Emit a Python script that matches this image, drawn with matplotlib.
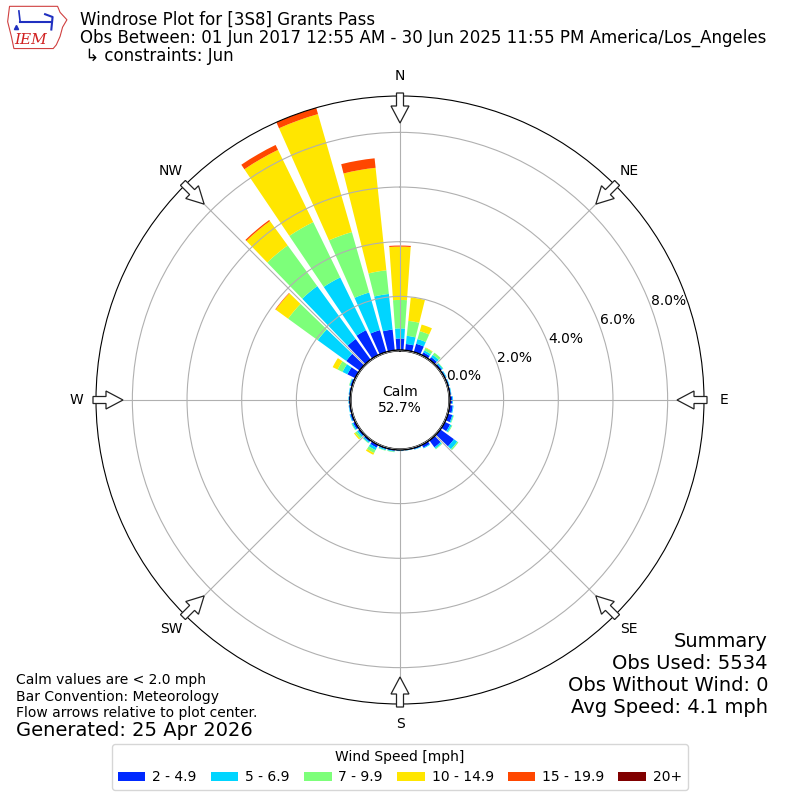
import numpy as np
import matplotlib
matplotlib.use("Agg")
import matplotlib.pyplot as plt
from matplotlib.patches import Circle, FancyArrow, Polygon

# ========================
# DATA (percent of obs, per 10 degree direction bin)
# ========================
directions = np.arange(0, 360, 10)
speed_labels = ["2 - 4.9", "5 - 6.9", "7 - 9.9", "10 - 14.9", "15 - 19.9", "20+"]

#            0     10    20    30    40    50    60    70    80    90   100   110
freq_2_5 = [0.46, 0.27, 0.35, 0.15, 0.15, 0.10, 0.08, 0.08, 0.08, 0.12, 0.15, 0.20,
            0.25, 0.65, 0.35, 0.15, 0.08, 0.06, 0.06, 0.08, 0.08, 0.15, 0.10, 0.10,
            0.12, 0.10, 0.08, 0.08, 0.08, 0.10, 0.35, 0.64, 0.97, 1.05, 0.87, 0.80]
freq_5_7 = [0.37, 0.30, 0.18, 0.08, 0.10, 0.05, 0.03, 0.02, 0.02, 0.03, 0.03, 0.04,
            0.06, 0.15, 0.06, 0.03, 0.02, 0.01, 0.02, 0.03, 0.04, 0.10, 0.05, 0.06,
            0.05, 0.03, 0.02, 0.02, 0.02, 0.03, 0.20, 1.29, 2.39, 2.15, 1.43, 1.31]
freq_7_10 = [1.04, 0.55, 0.30, 0.10, 0.10, 0.02, 0.00, 0.00, 0.00, 0.00, 0.00, 0.02,
             0.03, 0.05, 0.03, 0.00, 0.00, 0.00, 0.00, 0.02, 0.02, 0.12, 0.02, 0.08,
             0.02, 0.00, 0.00, 0.00, 0.00, 0.02, 0.20, 1.34, 1.84, 2.25, 2.30, 0.87]
freq_10_15 = [1.95, 0.86, 0.25, 0.02, 0.00, 0.00, 0.00, 0.00, 0.00, 0.00, 0.00, 0.00,
              0.00, 0.00, 0.00, 0.00, 0.00, 0.00, 0.00, 0.00, 0.00, 0.07, 0.00, 0.05,
              0.00, 0.00, 0.00, 0.00, 0.00, 0.00, 0.20, 0.56, 1.10, 2.94, 4.49, 3.77]
freq_15_20 = [0.04, 0.00, 0.00, 0.00, 0.00, 0.00, 0.00, 0.00, 0.00, 0.00, 0.00, 0.00,
              0.00, 0.00, 0.00, 0.00, 0.00, 0.00, 0.00, 0.00, 0.00, 0.00, 0.00, 0.00,
              0.00, 0.00, 0.00, 0.00, 0.00, 0.00, 0.00, 0.02, 0.05, 0.20, 0.27, 0.35]
freq_20_up = [0.0] * 36

calm_pct = 52.7
ring_values = [0, 2, 4, 6, 8]
ring_labels = ["0.0%", "2.0%", "4.0%", "6.0%", "8.0%"]
compass = ["N", "NE", "E", "SE", "S", "SW", "W", "NW"]

title_lines = [
    "Windrose Plot for [3S8] Grants Pass",
    "Obs Between: 01 Jun 2017 12:55 AM - 30 Jun 2025 11:55 PM America/Los_Angeles",
    " \u21b3 constraints: Jun",
]
notes = ["Calm values are < 2.0 mph", "Bar Convention: Meteorology",
         "Flow arrows relative to plot center."]
generated = "Generated: 25 Apr 2026"
summary_lines = ["Summary", "Obs Used: 5534", "Obs Without Wind: 0", "Avg Speed: 4.1 mph"]

# ========================
# FIGURE
# ========================
fig = plt.figure(figsize=(8, 8), dpi=100)
ax = fig.add_axes([0.12, 0.12, 0.76, 0.76], projection="polar")
ax.set_theta_zero_location("N")
ax.set_theta_direction(-1)
ax.set_rorigin(-1.79)
ax.set_ylim(0, 9.33)

colors = plt.get_cmap("jet")(np.arange(1, 7) / 6.0)
theta = np.radians(directions)
bottom = np.zeros(len(directions))
for vals, col, lab in zip([freq_2_5, freq_5_7, freq_7_10, freq_10_15, freq_15_20, freq_20_up],
                          colors, speed_labels):
    vals = np.array(vals)
    ax.bar(theta, vals, width=np.radians(8), bottom=bottom, color=col,
           linewidth=0, label=lab, zorder=1)
    bottom += vals

ax.set_xticks(np.radians(np.arange(0, 360, 45)))
ax.set_xticklabels([])
ax.set_rgrids(ring_values, labels=ring_labels, angle=70, fontsize=10)

# calm circle in the middle
ax.add_artist(Circle((0.5, 0.5), 50 / 608.0, transform=ax.transAxes,
                     fc="white", ec="black", lw=1, zorder=5))
ax.text(0.5, 0.5, "Calm\n%.1f%%" % calm_pct, transform=ax.transAxes,
        ha="center", va="center", fontsize=10, zorder=6)

# compass labels and flow arrows
for i, lab in enumerate(compass):
    b = np.radians(i * 45)
    r = 0.5 * 324 / 304.0
    ax.text(0.5 + r * np.sin(b), 0.5 + r * np.cos(b), lab, transform=ax.transAxes,
            ha="center", va="center", fontsize=10, clip_on=False)
    r0 = 0.5 * 307 / 304.0
    r1 = 0.5 * 277 / 304.0
    arr = FancyArrow(0.5 + r0 * np.sin(b), 0.5 + r0 * np.cos(b),
                     (r1 - r0) * np.sin(b), (r1 - r0) * np.cos(b),
                     width=7 / 608.0, head_width=18 / 608.0, head_length=17 / 608.0,
                     length_includes_head=True, fc="white", ec="#222222", lw=0.9,
                     transform=ax.transAxes, zorder=10)
    fig.add_artist(arr)

# ========================
# TEXT
# ========================
for i, line in enumerate(title_lines):
    fig.text(80 / 800.0, 1 - (25 + 18 * i) / 800.0, line, fontsize=12, va="baseline")

for i, line in enumerate(notes):
    fig.text(16 / 800.0, 1 - (684 + 16.5 * i) / 800.0, line, fontsize=10, va="baseline")
fig.text(16 / 800.0, 1 - 736 / 800.0, generated, fontsize=14, va="baseline")

# summary block, one line at a time (right aligned)
for i, line in enumerate(summary_lines):
    fig.text(768 / 800.0, 1 - (647 + 22 * i) / 800.0, line, fontsize=14,
             ha="right", va="baseline")

# legend
handles, labels = ax.get_legend_handles_labels()
fig.legend(handles, labels, loc="lower center", bbox_to_anchor=(0.5, 0.0125),
           borderaxespad=0, ncol=6, title="Wind Speed [mph]", fontsize=10,
           title_fontsize=10, handlelength=2.0, handletextpad=0.5,
           columnspacing=1.0)

# IEM logo (rough drawing)
lax = fig.add_axes([0.008, 0.937, 0.078, 0.058])
lax.set_xlim(0, 1)
lax.set_ylim(0, 1)
lax.axis("off")
outline = [(0.05, 0.95), (0.82, 0.95), (0.86, 0.82), (0.97, 0.66), (0.9, 0.5),
           (0.86, 0.3), (0.8, 0.12), (0.75, 0.04), (0.12, 0.04), (0.08, 0.3),
           (0.02, 0.62)]
lax.add_patch(Polygon(outline, closed=True, fill=False, ec="#d04040", lw=0.8))
lax.plot([0.22, 0.72], [0.62, 0.62], color="#2030c0", lw=1.5)
lax.plot([0.2, 0.22], [0.85, 0.62], color="#2030c0", lw=1.2)
lax.plot([0.62, 0.74, 0.72], [0.78, 0.72, 0.45], color="#2030c0", lw=1.5)
lax.plot([0.15], [0.5], "^", color="#2030c0", ms=3)
lax.text(0.38, 0.22, "IEM", color="#d02020", fontsize=11, family="serif",
         style="italic", ha="center", va="center")

fig.savefig("out.png", dpi=100)
